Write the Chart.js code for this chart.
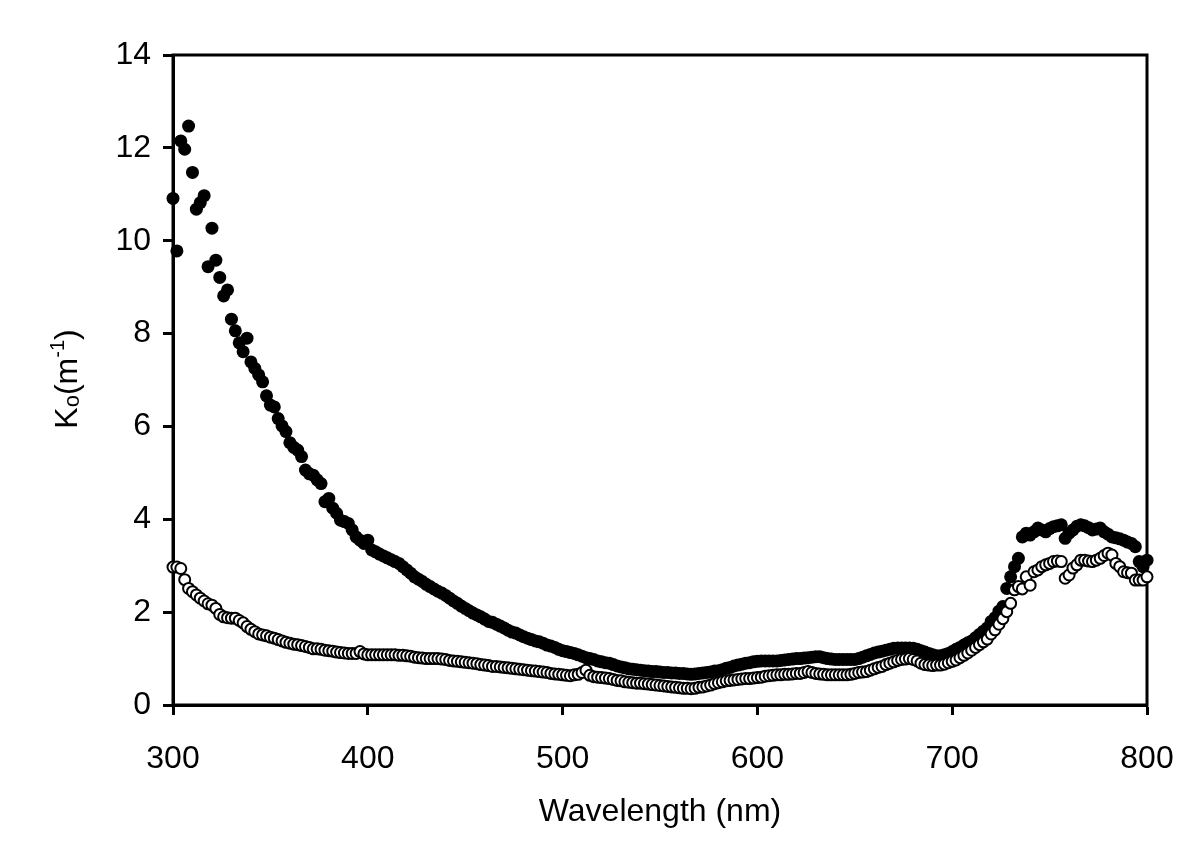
<!DOCTYPE html>
<html>
<head>
<meta charset="utf-8">
<script src="https://cdn.jsdelivr.net/npm/chart.js"></script>
<style>
  html, body { margin: 0; padding: 0; background: #fff; }
  canvas { display: block; }
</style>
</head>
<body>
<canvas id="chart" width="1200" height="866"></canvas>
<script>
// wavelength grid, 2 nm steps from 300 to 800
const wavelengths = Array.from({ length: 251 }, (_, i) => 300 + 2 * i);

// filled circles (one row = 20 nm)
const koFilled = [
  10.91, 9.78, 12.15, 11.97, 12.47, 11.47, 10.68, 10.82, 10.97, 9.44,
  10.27, 9.58, 9.21, 8.81, 8.94, 8.31, 8.06, 7.80, 7.61, 7.90,
  7.39, 7.25, 7.11, 6.96, 6.66, 6.46, 6.42, 6.17, 6.01, 5.89,
  5.65, 5.55, 5.49, 5.35, 5.06, 4.98, 4.95, 4.85, 4.77, 4.38,
  4.45, 4.24, 4.13, 3.98, 3.95, 3.91, 3.77, 3.62, 3.55, 3.48,
  3.55, 3.34, 3.30, 3.25, 3.21, 3.17, 3.13, 3.09, 3.05, 2.98,
  2.91, 2.84, 2.76, 2.71, 2.66, 2.60, 2.55, 2.50, 2.45, 2.41,
  2.36, 2.30, 2.24, 2.19, 2.13, 2.08, 2.03, 1.98, 1.94, 1.90,
  1.85, 1.80, 1.78, 1.74, 1.70, 1.66, 1.61, 1.57, 1.55, 1.51,
  1.47, 1.44, 1.41, 1.38, 1.36, 1.33, 1.29, 1.27, 1.24, 1.20,
  1.17, 1.15, 1.13, 1.11, 1.08, 1.05, 1.02, 1.00, 0.98, 0.95,
  0.93, 0.91, 0.90, 0.87, 0.84, 0.82, 0.80, 0.78, 0.77, 0.76,
  0.75, 0.74, 0.73, 0.72, 0.72, 0.71, 0.70, 0.70, 0.69, 0.69,
  0.68, 0.68, 0.67, 0.66, 0.67, 0.68, 0.69, 0.70, 0.71, 0.73,
  0.74, 0.76, 0.79, 0.81, 0.84, 0.86, 0.88, 0.90, 0.91, 0.93,
  0.94, 0.95, 0.95, 0.95, 0.95, 0.95, 0.96, 0.97, 0.98, 0.99,
  1.00, 1.00, 1.01, 1.02, 1.03, 1.04, 1.04, 1.02, 1.00, 0.99,
  0.98, 0.98, 0.98, 0.98, 0.98, 0.98, 1.00, 1.03, 1.06, 1.09,
  1.12, 1.14, 1.16, 1.18, 1.20, 1.22, 1.23, 1.23, 1.23, 1.23,
  1.22, 1.20, 1.17, 1.14, 1.11, 1.08, 1.06, 1.06, 1.08, 1.11,
  1.15, 1.20, 1.24, 1.29, 1.34, 1.38, 1.45, 1.52, 1.59, 1.66,
  1.80, 1.88, 2.02, 2.12, 2.51, 2.76, 2.98, 3.16, 3.62, 3.70,
  3.66, 3.73, 3.81, 3.77, 3.73, 3.80, 3.84, 3.86, 3.88, 3.59,
  3.70, 3.77, 3.85, 3.88, 3.86, 3.82, 3.77, 3.79, 3.81, 3.73,
  3.68, 3.62, 3.60, 3.58, 3.55, 3.51, 3.48, 3.41, 3.09, 2.98,
  3.12
];

// open circles
const koOpen = [
  2.97, 2.97, 2.94, 2.70, 2.51, 2.44, 2.37, 2.30, 2.24, 2.18,
  2.15, 2.08, 1.95, 1.90, 1.88, 1.87, 1.87, 1.82, 1.77, 1.69,
  1.63, 1.58, 1.53, 1.51, 1.49, 1.46, 1.44, 1.41, 1.38, 1.35,
  1.33, 1.31, 1.30, 1.28, 1.26, 1.24, 1.21, 1.21, 1.20, 1.18,
  1.17, 1.16, 1.14, 1.13, 1.12, 1.11, 1.11, 1.11, 1.15, 1.10,
  1.08, 1.08, 1.08, 1.08, 1.08, 1.08, 1.08, 1.08, 1.07, 1.07,
  1.06, 1.05, 1.03, 1.02, 1.01, 1.00, 1.00, 1.00, 1.00, 0.99,
  0.98, 0.96, 0.95, 0.94, 0.93, 0.92, 0.91, 0.90, 0.89, 0.87,
  0.86, 0.85, 0.83, 0.83, 0.82, 0.81, 0.80, 0.79, 0.78, 0.77,
  0.76, 0.75, 0.74, 0.73, 0.72, 0.71, 0.70, 0.68, 0.67, 0.66,
  0.65, 0.64, 0.63, 0.65, 0.66, 0.70, 0.75, 0.64, 0.61, 0.60,
  0.59, 0.58, 0.57, 0.55, 0.53, 0.52, 0.50, 0.49, 0.48, 0.47,
  0.47, 0.46, 0.45, 0.44, 0.43, 0.42, 0.41, 0.40, 0.39, 0.38,
  0.37, 0.36, 0.36, 0.35, 0.36, 0.38, 0.39, 0.41, 0.43, 0.46,
  0.48, 0.50, 0.52, 0.53, 0.54, 0.55, 0.56, 0.57, 0.57, 0.58,
  0.59, 0.60, 0.62, 0.63, 0.64, 0.65, 0.65, 0.66, 0.66, 0.67,
  0.68, 0.68, 0.70, 0.72, 0.70, 0.68, 0.67, 0.66, 0.65, 0.65,
  0.65, 0.65, 0.65, 0.65, 0.66, 0.68, 0.70, 0.71, 0.72, 0.75,
  0.78, 0.81, 0.83, 0.87, 0.90, 0.93, 0.96, 0.98, 0.99, 1.00,
  0.98, 0.95, 0.90, 0.87, 0.86, 0.85, 0.86, 0.86, 0.88, 0.91,
  0.94, 0.97, 1.02, 1.07, 1.12, 1.18, 1.24, 1.30, 1.36, 1.42,
  1.53, 1.62, 1.74, 1.86, 2.01, 2.19, 2.48, 2.55, 2.50, 2.76,
  2.58, 2.87, 2.91, 2.98, 3.02, 3.05, 3.09, 3.10, 3.09, 2.73,
  2.80, 2.95, 3.02, 3.12, 3.12, 3.10, 3.09, 3.12, 3.16, 3.22,
  3.27, 3.23, 3.05, 2.98, 2.87, 2.85, 2.84, 2.69, 2.69, 2.69,
  2.76
];

const xTicks = [300, 400, 500, 600, 700, 800];
const yTicks = [0, 2, 4, 6, 8, 10, 12, 14];

const FONT = "'Liberation Sans', Arial, sans-serif";

const toPoints = ys => ys.map((y, i) => ({ x: wavelengths[i], y: y }));

// frame round the plot area
const frame = {
  id: 'frame',
  beforeDatasetsDraw(chart) {
    const a = chart.chartArea, ctx = chart.ctx;
    ctx.save();
    ctx.strokeStyle = '#000';
    ctx.lineWidth = 3;
    ctx.strokeRect(a.left, a.top, a.right - a.left, a.bottom - a.top);
    ctx.restore();
  }
};

// y title with subscript o and superscript -1
const yTitle = {
  id: 'yTitle',
  afterDraw(chart) {
    const ctx = chart.ctx;
    const parts = [
      { t: 'K', size: 32, dy: 0 },
      { t: 'o', size: 22, dy: 2 },
      { t: '(m', size: 32, dy: 0 },
      { t: '-1', size: 20, dy: -13 },
      { t: ')', size: 32, dy: 0 }
    ];
    ctx.save();
    ctx.fillStyle = '#000';
    ctx.textBaseline = 'alphabetic';
    ctx.textAlign = 'left';
    let total = 0;
    parts.forEach(p => { ctx.font = p.size + 'px ' + FONT; total += ctx.measureText(p.t).width; });
    ctx.translate(77, 379);
    ctx.rotate(-Math.PI / 2);
    let x = -total / 2;
    parts.forEach(p => {
      ctx.font = p.size + 'px ' + FONT;
      ctx.fillText(p.t, x, p.dy);
      x += ctx.measureText(p.t).width;
    });
    ctx.restore();
  }
};

new Chart(document.getElementById('chart'), {
  type: 'scatter',
  data: {
    datasets: [
      {
        label: 'open',
        data: toPoints(koOpen),
        pointStyle: 'circle',
        pointRadius: 5.5,
        pointBorderWidth: 2,
        borderColor: '#000',
        backgroundColor: '#fff',
        clip: false
      },
      {
        label: 'filled',
        data: toPoints(koFilled),
        pointStyle: 'circle',
        pointRadius: 6.5,
        pointBorderWidth: 0,
        borderColor: '#000',
        backgroundColor: '#000',
        clip: false
      }
    ]
  },
  options: {
    responsive: false,
    animation: false,
    devicePixelRatio: 1,
    layout: { padding: { left: 0, top: 55, right: 53, bottom: 0 } },
    plugins: {
      legend: { display: false },
      tooltip: { enabled: false }
    },
    scales: {
      x: {
        type: 'linear',
        min: 300,
        max: 800,
        afterBuildTicks: s => { s.ticks = xTicks.map(v => ({ value: v })); },
        afterFit: s => { s.height = 161; },
        ticks: { color: '#000', padding: 25, font: { size: 32, family: FONT } },
        grid: { drawOnChartArea: false, drawTicks: true, tickLength: 10, tickWidth: 3, tickColor: '#000', color: '#000' },
        border: { display: true, color: '#000', width: 3 },
        title: {
          display: true,
          text: 'Wavelength (nm)',
          color: '#000',
          font: { size: 32, family: FONT },
          padding: { top: 0, bottom: 35 }
        }
      },
      y: {
        min: 0,
        max: 14,
        afterBuildTicks: s => { s.ticks = yTicks.map(v => ({ value: v })); },
        afterFit: s => { s.width = 173; },
        ticks: { color: '#000', padding: 12, font: { size: 32, family: FONT } },
        grid: { drawOnChartArea: false, drawTicks: true, tickLength: 10, tickWidth: 3, tickColor: '#000', color: '#000' },
        border: { display: true, color: '#000', width: 3 }
      }
    }
  },
  plugins: [frame, yTitle]
});
</script>
</body>
</html>
